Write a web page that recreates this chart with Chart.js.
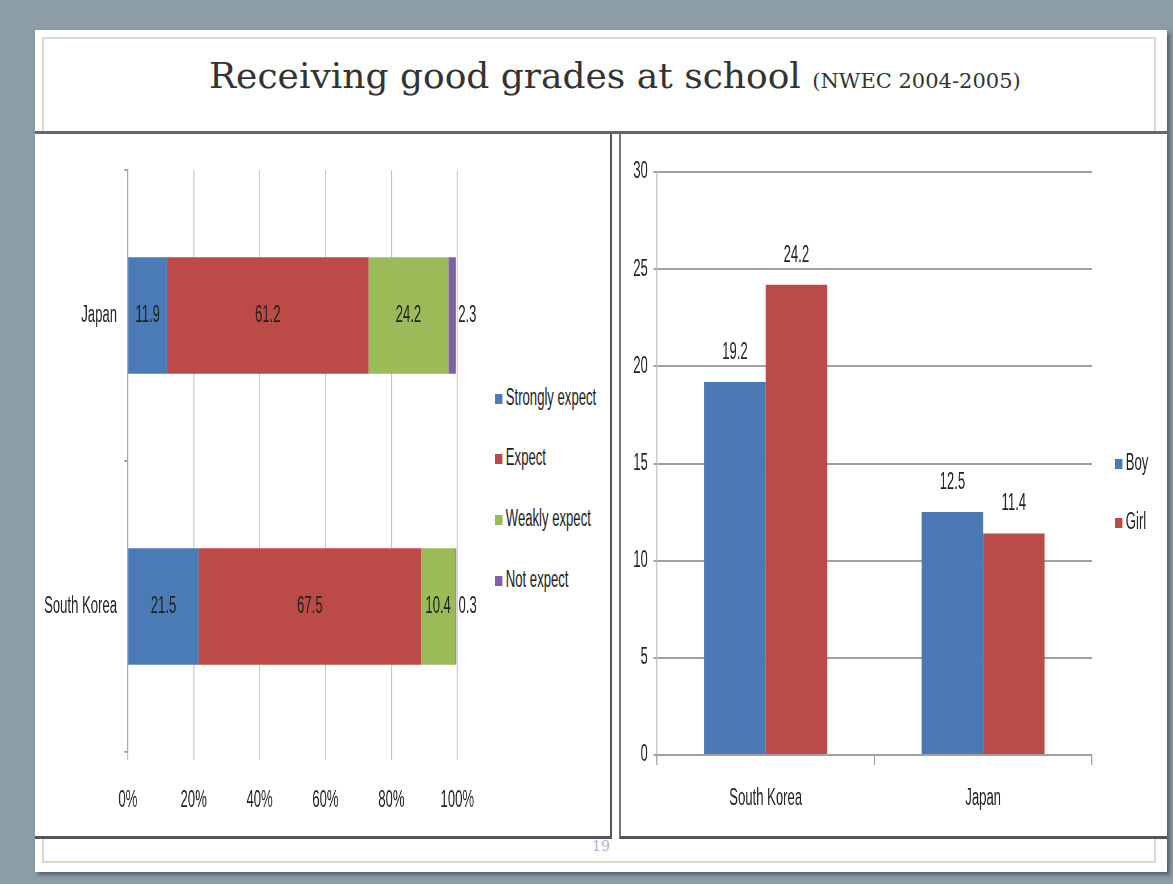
<!DOCTYPE html>
<html>
<head>
<meta charset="utf-8">
<script src="https://cdn.jsdelivr.net/npm/chart.js@4"></script>
<style>
  body { margin: 0; width: 1173px; height: 884px; background: #8d9da8; position: relative; overflow: hidden; font-family: 'Liberation Sans', Arial, sans-serif; }
  .abs { position: absolute; }
  #slide { left: 35px; top: 30px; width: 1132px; height: 842px; background: #fff; box-shadow: 3px 3px 4px rgba(40, 50, 60, 0.55); }
  #frame { left: 42px; top: 37px; width: 1114px; height: 826px; border: 2px solid #d8d8cd; box-sizing: border-box; }
  #titleLine { left: 35px; top: 131px; width: 1132px; height: 3px; background: #666; }
  #title { left: 209px; top: 55px; font-family: 'DejaVu Serif', serif; font-size: 36px; color: #333; white-space: nowrap; }
  #title small { font-size: 21px; }
  #leftPanel { left: 35px; top: 134px; width: 575px; height: 702px; background: #fff; border-right: 2px solid #555; border-bottom: 3px solid #555; }
  #rightPanel { left: 619px; top: 134px; width: 546px; height: 702px; background: #fff; border-left: 2px solid #777; border-bottom: 3px solid #555; }
  #pageNo { left: 592px; top: 838px; font-family: 'DejaVu Serif', serif; font-size: 14px; color: #a9b8c6; }
  .squeeze { transform: scaleX(0.57); transform-origin: 0 0; }
  .legend { font-size: 23px; color: #222; white-space: nowrap; }
  .legend div { position: absolute; left: 0; height: 26px; line-height: 26px; }
  .legend span { display: inline-block; width: 13px; height: 10px; margin-right: 6px; vertical-align: 1px; }
</style>
</head>
<body>
<div id="slide" class="abs"></div>
<div id="frame" class="abs"></div>
<div id="title" class="abs">Receiving good grades at school <small>(NWEC 2004-2005)</small></div>
<div id="titleLine" class="abs"></div>
<div id="leftPanel" class="abs"></div>
<div id="rightPanel" class="abs"></div>
<div id="pageNo" class="abs">19</div>

<div class="abs squeeze" style="left:40px; top:140px;">
  <canvas id="expectChart" width="790" height="690"></canvas>
</div>
<div class="abs squeeze legend" id="expectLegend" style="left:495px; top:0;"></div>

<div class="abs squeeze" style="left:625px; top:140px;">
  <canvas id="genderChart" width="939" height="690"></canvas>
</div>
<div class="abs squeeze legend" id="genderLegend" style="left:1115px; top:0;"></div>

<script>
// Left chart: how strongly parents expect good grades (%)
const countries = ['Japan', 'South Korea'];
const levels = ['Strongly expect', 'Expect', 'Weakly expect', 'Not expect'];
const stronglyExpect = [11.9, 21.5];
const expect = [61.2, 67.5];
const weaklyExpect = [24.2, 10.4];
const notExpect = [2.3, 0.3];
const levelColors = ['#4a7bb7', '#bc4b48', '#9bbb59', '#7f62a6'];

// Right chart: by gender
const genderCountries = ['South Korea', 'Japan'];
const genders = ['Boy', 'Girl'];
const boy = [19.2, 12.5];
const girl = [24.2, 11.4];
const genderColors = ['#4a79b3', '#ba4b48'];

const labelFont = "23px 'Liberation Sans', Arial, sans-serif";

// draws the numbers on the bars
const barLabels = {
  id: 'barLabels',
  afterDatasetsDraw(chart) {
    const ctx = chart.ctx;
    const horizontal = chart.options.indexAxis === 'y';
    ctx.save();
    ctx.font = labelFont;
    ctx.fillStyle = '#222';
    chart.data.datasets.forEach((ds, i) => {
      chart.getDatasetMeta(i).data.forEach((bar, j) => {
        const v = ds.data[j];
        if (horizontal) {
          ctx.textBaseline = 'middle';
          if (v < 5) {
            ctx.textAlign = 'left';
            ctx.fillText(v.toFixed(1), bar.x + 4, bar.y);
          } else {
            ctx.textAlign = 'center';
            ctx.fillText(v.toFixed(1), (bar.x + bar.base) / 2, bar.y);
          }
        } else {
          ctx.textAlign = 'center';
          ctx.textBaseline = 'bottom';
          ctx.fillText(v.toFixed(1), bar.x, bar.y - 18);
        }
      });
    });
    ctx.restore();
  }
};

const makeLegend = (el, names, colors, tops) => {
  el.innerHTML = names.map((n, i) =>
    `<div style="top:${tops[i] - 13}px"><span style="background:${colors[i]}"></span>${n}</div>`
  ).join('');
};
makeLegend(document.getElementById('expectLegend'), levels, levelColors, [397, 457, 518, 579]);
makeLegend(document.getElementById('genderLegend'), genders, genderColors, [462, 521]);

Chart.defaults.font.family = "'Liberation Sans', Arial, sans-serif";
Chart.defaults.font.size = 23;
Chart.defaults.color = '#222';

const expectChart = new Chart(document.getElementById('expectChart'), {
  type: 'bar',
  data: {
    labels: countries,
    datasets: [stronglyExpect, expect, weaklyExpect, notExpect].map((d, i) => ({
      label: levels[i],
      data: d,
      backgroundColor: levelColors[i],
      borderWidth: 0,
      barPercentage: 0.4,
      categoryPercentage: 1,
    })),
  },
  options: {
    indexAxis: 'y',
    responsive: false,
    animation: false,
    layout: { padding: { top: 30, right: 58, bottom: 18, left: 0 } },
    plugins: { legend: { display: false }, tooltip: { enabled: false } },
    scales: {
      x: {
        stacked: true,
        min: 0,
        max: 100,
        ticks: { stepSize: 20, padding: 27, callback: (v) => v + '%' },
        grid: { color: '#c4c4c4', lineWidth: 1.8, tickLength: 8 },
        border: { display: false },
        afterFit: (scale) => { scale.height = 60; },
      },
      y: {
        stacked: true,
        ticks: { padding: 13 },
        grid: { drawOnChartArea: false, color: '#999', tickLength: 6, lineWidth: 1.8 },
        border: { color: '#aaa', width: 1.8 },
        afterFit: (scale) => { scale.width = 154; },
      },
    },
  },
  plugins: [barLabels],
});

const genderChart = new Chart(document.getElementById('genderChart'), {
  type: 'bar',
  data: {
    labels: genderCountries,
    datasets: [boy, girl].map((d, i) => ({
      label: genders[i],
      data: d,
      backgroundColor: genderColors[i],
      borderWidth: 0,
      barPercentage: 1,
      categoryPercentage: 0.565,
    })),
  },
  options: {
    responsive: false,
    animation: false,
    layout: { padding: { top: 32, right: 120, bottom: 15, left: 0 } },
    plugins: { legend: { display: false }, tooltip: { enabled: false } },
    scales: {
      y: {
        min: 0,
        max: 30,
        ticks: { stepSize: 5, padding: 10 },
        grid: { color: '#a0a0a0', lineWidth: 2, tickLength: 6 },
        border: { color: '#bbb', width: 1.8 },
        afterFit: (scale) => { scale.width = 56; },
      },
      x: {
        ticks: { padding: 20 },
        grid: { drawOnChartArea: false, color: '#999', tickLength: 10, lineWidth: 1.8 },
        border: { color: '#a0a0a0', width: 2 },
        afterFit: (scale) => { scale.height = 60; },
      },
    },
  },
  plugins: [barLabels],
});
</script>
</body>
</html>
